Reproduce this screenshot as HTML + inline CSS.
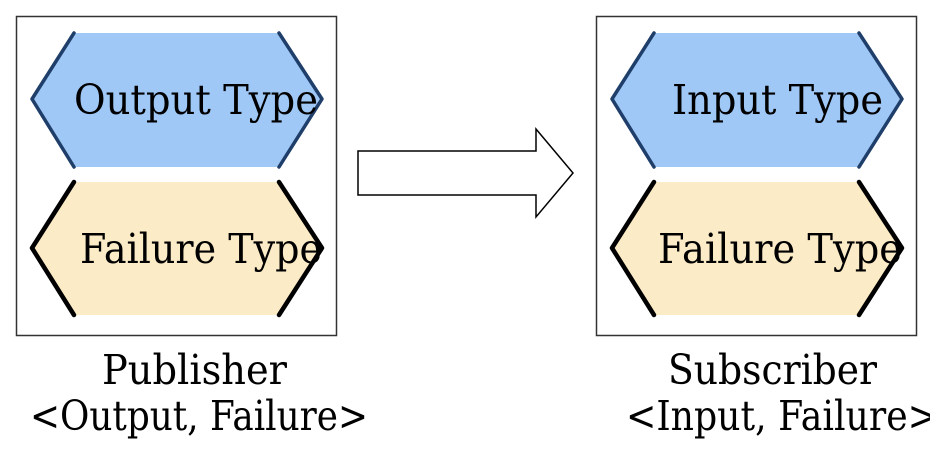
<!DOCTYPE html>
<html><head><meta charset="utf-8"><style>
html,body{margin:0;padding:0;background:#fff;}
svg{display:block;}
text{font-family:"DejaVu Serif","Liberation Serif",serif;font-size:41px;fill:#000;}
</style></head><body>
<svg width="930" height="454" viewBox="0 0 930 454" xmlns="http://www.w3.org/2000/svg">
<defs>
<g id="hex">
  <polygon points="74,33 279,33 322,99 279,167 74,167 32,99" fill="#9fc8f7"/>
  <polyline points="74,33 32,99 74,167" fill="none" stroke="#1f3f6a" stroke-width="3.5" stroke-linecap="round" stroke-linejoin="round"/>
  <polyline points="279,33 322,99 279,167" fill="none" stroke="#1f3f6a" stroke-width="3.5" stroke-linecap="round" stroke-linejoin="round"/>
  <polygon points="74,182 279,182 322,248 279,315 74,315 32,248" fill="#fbebc6"/>
  <polyline points="74,182 32,248 74,315" fill="none" stroke="#000" stroke-width="4.5" stroke-linecap="round" stroke-linejoin="round"/>
  <polyline points="279,182 322,248 279,315" fill="none" stroke="#000" stroke-width="4.5" stroke-linecap="round" stroke-linejoin="round"/>
  <rect x="16.5" y="16.5" width="320" height="319" fill="none" stroke="#333" stroke-width="1.5"/>
</g>
</defs>
<use href="#hex"/>
<use href="#hex" x="580"/>
<text x="74" y="114" textLength="244" lengthAdjust="spacingAndGlyphs">Output Type</text>
<text x="80" y="263" textLength="242" lengthAdjust="spacingAndGlyphs">Failure Type</text>
<text x="672" y="114" textLength="211" lengthAdjust="spacingAndGlyphs">Input Type</text>
<text x="658" y="263" textLength="244" lengthAdjust="spacingAndGlyphs">Failure Type</text>
<polygon points="358,151 536,151 536,129 573,173 536,217 536,195 358,195" fill="#fff" stroke="#000" stroke-width="1.5"/>
<text x="102" y="384" textLength="185" lengthAdjust="spacingAndGlyphs">Publisher</text>
<text x="30" y="430" textLength="338" lengthAdjust="spacingAndGlyphs">&lt;Output, Failure&gt;</text>
<text x="668" y="384" textLength="209" lengthAdjust="spacingAndGlyphs">Subscriber</text>
<text x="626" y="430" textLength="312" lengthAdjust="spacingAndGlyphs">&lt;Input, Failure&gt;</text>
</svg>
</body></html>
